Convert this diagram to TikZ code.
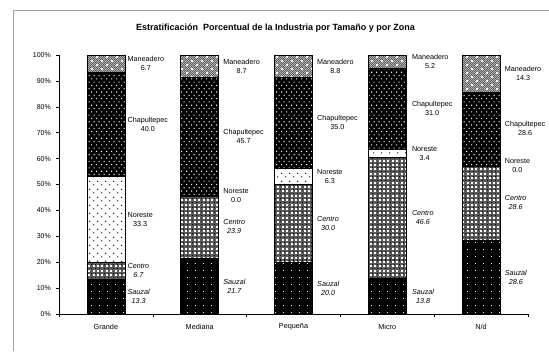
\documentclass[tikz,border=0pt]{standalone}
\usepackage{fontspec}
\setmainfont{Liberation Sans}
\usetikzlibrary{patterns}

% white dots on black (Sauzal)
\pgfdeclarepatternformonly{sauzaldots}{\pgfqpoint{-1pt}{-1pt}}{\pgfqpoint{9pt}{8pt}}{\pgfqpoint{8pt}{7pt}}{%
  \pgfpathrectangle{\pgfqpoint{3pt}{3pt}}{\pgfqpoint{1.4pt}{1.4pt}}\pgfusepath{fill}}
% denser staggered white dots (Chapultepec)
\pgfdeclarepatternformonly{chapdots}{\pgfqpoint{-1pt}{-1pt}}{\pgfqpoint{6pt}{7.6pt}}{\pgfqpoint{5pt}{6.6pt}}{%
  \pgfpathrectangle{\pgfqpoint{1pt}{1pt}}{\pgfqpoint{1.1pt}{1.1pt}}%
  \pgfpathrectangle{\pgfqpoint{3.5pt}{4.3pt}}{\pgfqpoint{1.1pt}{1.1pt}}\pgfusepath{fill}}
% sparse black dots on white (Noreste)
\pgfdeclarepatternformonly{norestedots}{\pgfqpoint{-1pt}{-1pt}}{\pgfqpoint{9pt}{9pt}}{\pgfqpoint{8pt}{8pt}}{%
  \pgfpathrectangle{\pgfqpoint{1pt}{1pt}}{\pgfqpoint{1.1pt}{1.1pt}}%
  \pgfpathrectangle{\pgfqpoint{5pt}{5.5pt}}{\pgfqpoint{1.1pt}{1.1pt}}\pgfusepath{fill}}
% fine grid of dots (Centro)
\pgfdeclarepatternformonly{centrowhite}{\pgfqpoint{-1pt}{-1pt}}{\pgfqpoint{5.4pt}{5.4pt}}{\pgfqpoint{4.4pt}{4.4pt}}{%
  \pgfpathrectangle{\pgfqpoint{0.1pt}{0.1pt}}{\pgfqpoint{2pt}{2pt}}\pgfusepath{fill}}
\pgfdeclarepatternformonly{centrodark}{\pgfqpoint{-1pt}{-1pt}}{\pgfqpoint{5.4pt}{5.4pt}}{\pgfqpoint{4.4pt}{4.4pt}}{%
  \pgfpathrectangle{\pgfqpoint{2.5pt}{2.5pt}}{\pgfqpoint{1.1pt}{1.1pt}}\pgfusepath{fill}}
% Maneadero: fine checker with sparse white spots
\pgfdeclarepatternformonly{manfine}{\pgfqpoint{-1pt}{-1pt}}{\pgfqpoint{3pt}{3pt}}{\pgfqpoint{2pt}{2pt}}{%
  \pgfpathrectangle{\pgfqpoint{0pt}{0pt}}{\pgfqpoint{1pt}{1pt}}%
  \pgfpathrectangle{\pgfqpoint{1pt}{1pt}}{\pgfqpoint{1pt}{1pt}}\pgfusepath{fill}}
\pgfdeclarepatternformonly{manspots}{\pgfqpoint{-1pt}{-1pt}}{\pgfqpoint{11pt}{9pt}}{\pgfqpoint{10pt}{8pt}}{%
  \pgfpathrectangle{\pgfqpoint{1pt}{1pt}}{\pgfqpoint{1.8pt}{1.8pt}}%
  \pgfpathrectangle{\pgfqpoint{6pt}{5pt}}{\pgfqpoint{1.8pt}{1.8pt}}\pgfusepath{fill}}

\tikzset{
  declare function={yv(\v)=314-2.59*\v;},
  segline/.style={draw=black, line width=0.5pt},
  sauzal/.style={preaction={fill=black}, pattern=sauzaldots, pattern color=white, segline},
  centro/.style={preaction={fill=black!65}, preaction={pattern=centrodark, pattern color=black},
                 pattern=centrowhite, pattern color=white, segline},
  noreste/.style={preaction={fill=white}, pattern=norestedots, pattern color=black, segline},
  chap/.style={preaction={fill=black}, pattern=chapdots, pattern color=white, segline},
  manea/.style={preaction={fill=black!72}, preaction={pattern=manfine, pattern color=black!30},
                pattern=manspots, pattern color=white, segline},
  lab/.style={inner sep=0pt, align=center, anchor=west, font=\fontsize{7.2}{9}\selectfont},
  ilab/.style={lab, font=\fontsize{7.2}{9}\selectfont\itshape},
  axlab/.style={inner sep=0pt, font=\fontsize{7}{8}\selectfont},
  catlab/.style={inner sep=0pt, font=\fontsize{7.3}{8}\selectfont},
}

\newcommand\catbar[9]{% id, cx, sauzal, centro, noreste, chapultepec, maneadero, category, label gap
  \pgfmathsetmacro\cA{#3}%
  \pgfmathsetmacro\cB{\cA+#4}%
  \pgfmathsetmacro\cC{\cB+#5}%
  \pgfmathsetmacro\cD{\cC+#6}%
  \pgfmathsetmacro\lx{#2+19+#9}%
  \path[sauzal] ({#2-19},{yv(0)}) rectangle ({#2+19},{yv(\cA)});
  \path[centro] ({#2-19},{yv(\cA)}) rectangle ({#2+19},{yv(\cB)});
  \path[noreste] ({#2-19},{yv(\cB)}) rectangle ({#2+19},{yv(\cC)});
  \path[chap] ({#2-19},{yv(\cC)}) rectangle ({#2+19},{yv(\cD)});
  \path[manea] ({#2-19},{yv(\cD)}) rectangle ({#2+19},{yv(100)});
  \node[ilab] (#1-s) at (\lx,{yv(\cA/2)}) {Sauzal\\#3};
  \node[ilab] (#1-c) at (\lx,{yv((\cA+\cB)/2)}) {Centro\\#4};
  \node[lab] (#1-n) at (\lx,{yv((\cB+\cC)/2)}) {Noreste\\#5};
  \node[lab] (#1-ch) at (\lx,{yv((\cC+\cD)/2)}) {Chapultepec\\#6};
  \node[lab] (#1-m) at (\lx,{yv((\cD+100)/2)}) {Maneadero\\#7};
  \node[catlab] (#1-cat) at (#2,327) {#8};
}

\begin{document}
\begin{tikzpicture}[x=1pt,y=-1pt]
\useasboundingbox[fill=white] (0,0) rectangle (549,351);
% outer frame
\draw[gray!70, line width=0.8pt] (13,351) -- (13,10) -- (549,10);
% title
\node[inner sep=0pt, font=\fontsize{9}{10}\selectfont\bfseries] (title) at (275.5,28)
  {Estratificación\ \ Porcentual de la Industria por Tamaño y por Zona};

% bars
\catbar{g}{105.9}{13.3}{6.7}{33.3}{40.0}{6.7}{Grande}{2.5}
\catbar{me}{199.7}{21.7}{23.9}{0.0}{45.7}{8.7}{Mediana}{4.5}
\catbar{pe}{293.5}{20.0}{30.0}{6.3}{35.0}{8.8}{Pequeña}{4.5}
\catbar{mi}{387.3}{13.8}{46.6}{3.4}{31.0}{5.2}{Micro}{5.5}
\catbar{nd}{481.1}{28.6}{28.6}{0.0}{28.6}{14.3}{N/d}{4.5}

% axes
\coordinate (o) at (59,314);
\coordinate (ytop) at (59,55);
\coordinate (xend) at (528,314);
\draw[black, line width=0.7pt] (ytop) -- (o) -- (xend);
\foreach \v in {0,10,...,100}{
  \draw[black, line width=0.6pt] (56,{yv(\v)}) -- (59,{yv(\v)});
  \node[axlab, anchor=east] (yl\v) at (51,{yv(\v)}) {\v\%};
}
\foreach \k in {0,...,5}{
  \draw[black, line width=0.6pt] ({59+93.8*\k},314) -- ({59+93.8*\k},317);
}
\end{tikzpicture}
\end{document}
